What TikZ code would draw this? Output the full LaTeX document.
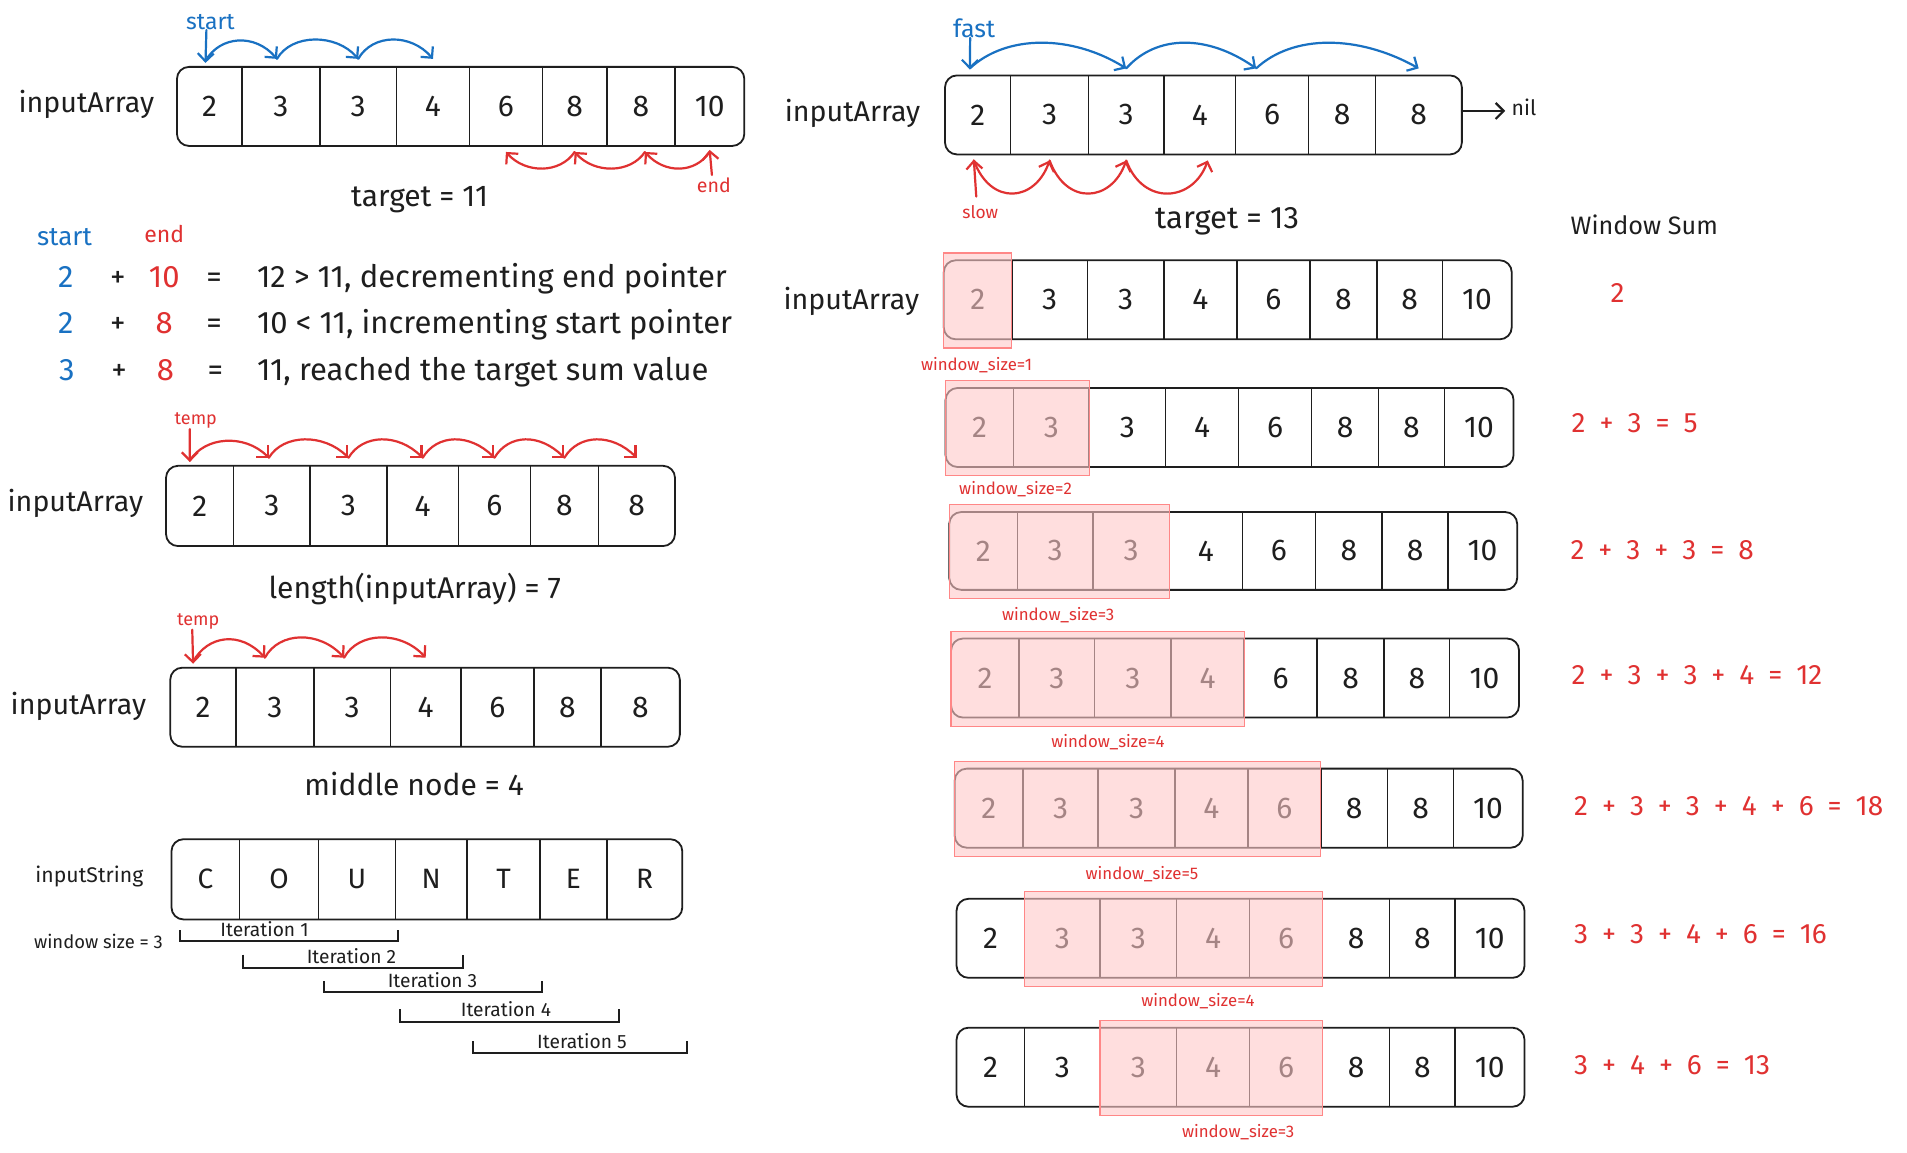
\documentclass[tikz,border=0pt]{standalone}
\usepackage{fontspec}
\setmainfont{Fira Sans}
\usetikzlibrary{arrows.meta}
\definecolor{exblue}{HTML}{1971C2}
\definecolor{exred}{HTML}{E03131}
\definecolor{exink}{HTML}{1E1E1E}
\definecolor{hlfill}{HTML}{FFC9C9}
\definecolor{hlline}{HTML}{FF8787}
\newcommand\fsz[1]{\fontsize{#1}{#1}\selectfont}
\newcommand\sumfont{\fsz{14}\spaceskip=7pt\relax}

\tikzset{
 cellnode/.style={inner sep=0pt, outer sep=0pt, font=\fsz{15}, text=exink},
 arrbox/.style={draw=exink, line width=0.9pt, rounded corners=6pt},
 divider/.style={draw=exink, line width=0.75pt},
 hlbox/.style={fill=hlfill, fill opacity=0.6, draw=hlline, line width=0.6pt},
 txt/.style={inner sep=0pt, text=exink},
 xptr/.style={line width=1.1pt, line cap=round, -{Straight Barb[length=4pt,width=8pt]}},
 xbracket/.style={draw=exink, line width=1pt},
 itlabel/.style={inner sep=0pt, text=exink, font=\fsz{9.6}, anchor=base},
 wslabel/.style={inner sep=0pt, text=exred, font=\fsz{8.4}},
 sumtxt/.style={inner sep=0pt, text=exred, font=\sumfont, anchor=west},
 rowtxt/.style={inner sep=0pt, text=exink, font=\fsz{15.5}, anchor=base},
}

% #1 name, #2 top, #3 bottom, #4 number of cells, #5 list xl/xr/value
\newcommand\mkarray[5]{%
  \foreach \xl/\xr/\v [count=\i] in {#5} {%
    \node[cellnode, minimum width={(\xr-\xl)*0.6081pt}, minimum height={(#3-#2)*0.6081pt}] (#1-\i) at ({(\xl+\xr)/2},{(#2+#3)/2}) {\v};
  }%
  \draw[arrbox] (#1-1.north west) rectangle (#1-#4.south east);
  \pgfmathtruncatemacro\lastdiv{#4-1}%
  \foreach \j in {1,...,\lastdiv} \draw[divider] (#1-\j.north east) -- (#1-\j.south east);
}
% #1 name, #2 left x, #3 top, #4 bottom
\newcommand\mkwide[4]{%
  \foreach \o/\p/\v [count=\i] in {0/56/2,56/118/3,118/181/3,181/241/4,241/301/6,301/356/8,356/410/8,410/467/10} {%
    \node[cellnode, minimum width={(\p-\o)*0.6081pt}, minimum height={(#4-#3)*0.6081pt}] (#1-\i) at ({#2+(\o+\p)/2},{(#3+#4)/2}) {\v};
  }%
  \draw[arrbox] (#1-1.north west) rectangle (#1-8.south east);
  \foreach \j in {1,...,7} \draw[divider] (#1-\j.north east) -- (#1-\j.south east);
}
\newcommand\mkhl[3]{%
  \draw[hlbox] ([yshift=3.6pt]#1-#2.north west) rectangle ([yshift=-4.3pt]#1-#3.south east);
}

\begin{document}
\begin{tikzpicture}[x=0.6081pt,y=-0.6081pt]
\fill[white] (0,0) rectangle (1568,948);
\useasboundingbox (0,0) rectangle (1568,948);

% ---------------- left panel -----------------
\node[txt, font=\fsz{14.3}] (lblA) at (71,86) {inputArray};
\mkarray{a}{55}{120}{8}{145.5/199/2, 199/263/3, 263/326/3, 326/386/4, 386/446/6, 446/499/8, 499/555/8, 555/612/10}

\node[txt, text=exblue, font=\fsz{11.5}] (startA) at (173,18) {start};
\draw[xptr, exblue] ([xshift=-2pt]startA.south) -- ([xshift=-2pt,yshift=2pt]a-1.north);
\draw[xptr, exblue] ([xshift=-2pt,yshift=3pt]a-1.north) .. controls +(12,-21) and +(-18,-21) .. ([xshift=-2pt,yshift=4pt]a-2.north);
\draw[xptr, exblue] ([xshift=-2pt,yshift=4pt]a-2.north) .. controls +(12,-21) and +(-18,-21) .. ([yshift=4pt]a-3.north);
\draw[xptr, exblue] ([yshift=4pt]a-3.north) .. controls +(12,-21) and +(-18,-21) .. ([yshift=4pt]a-4.north);

\node[txt, text=exred, font=\fsz{9.8}] (endA) at (587,152) {end};
\draw[xptr, exred] ([xshift=-1pt,yshift=1pt]endA.north) -- ([yshift=-2pt]a-8.south);
\draw[xptr, exred] ([yshift=-3pt]a-8.south) .. controls +(-12,18) and +(16,18) .. ([xshift=2pt,yshift=-3pt]a-7.south);
\draw[xptr, exred] ([xshift=2pt,yshift=-3pt]a-7.south) .. controls +(-12,18) and +(16,18) .. ([yshift=-3pt]a-6.south);
\draw[xptr, exred] ([yshift=-3pt]a-6.south) .. controls +(-12,18) and +(16,18) .. ([yshift=-3pt]a-5.south);

\node[txt, font=\fsz{15}] (tgtA) at (345,164) {target = 11};

\node[txt, text=exblue, font=\fsz{13}] (colS) at (53,195) {start};
\node[txt, text=exred, font=\fsz{11.5}] (colE) at (135,192) {end};

\node[rowtxt, text=exblue] (r1a) at (54,236) {2};
\node[rowtxt] (r1p) at (97,236) {+};
\node[rowtxt, text=exred] (r1b) at (135,236) {10};
\node[rowtxt] (r1e) at (176,236) {=};
\node[rowtxt, anchor=base west] (r1t) at (211,236) {12 > 11, decrementing end pointer};

\node[rowtxt, text=exblue] (r2a) at (54,274) {2};
\node[rowtxt] (r2p) at (97,274) {+};
\node[rowtxt, text=exred] (r2b) at (135,274) {8};
\node[rowtxt] (r2e) at (176,274) {=};
\node[rowtxt, anchor=base west] (r2t) at (211,274) {10 < 11, incrementing start pointer};

\node[rowtxt, text=exblue] (r3a) at (55,312.5) {3};
\node[rowtxt] (r3p) at (98,312.5) {+};
\node[rowtxt, text=exred] (r3b) at (136,312.5) {8};
\node[rowtxt] (r3e) at (177,312.5) {=};
\node[rowtxt, anchor=base west] (r3t) at (211,312.5) {11, reached the target sum value};

% array b
\node[txt, font=\fsz{14.3}] (lblB) at (62,414) {inputArray};
\mkarray{b}{383}{449}{7}{136.5/192/2, 192/255/3, 255/318/3, 318/377/4, 377/436/6, 436/492/8, 492/555/8}
\node[txt, text=exred, font=\fsz{9}] (tempB) at (161,346) {temp};
\draw[xptr, exred] ([xshift=-3pt]tempB.south) -- ([xshift=-5pt,yshift=2pt]b-1.north);
\draw[xptr, exred] ([xshift=-5pt,yshift=2.5pt]b-1.north) .. controls +(12,-20) and +(-20,-20) .. ([xshift=-1.5pt,yshift=4pt]b-2.north);
\draw[xptr, exred] ([xshift=-1.5pt,yshift=4pt]b-2.north) .. controls +(12,-20) and +(-20,-20) .. ([yshift=4pt]b-3.north);
\foreach \p/\q in {3/4,4/5,5/6,6/7}
  \draw[xptr, exred] ([yshift=4pt]b-\p.north) .. controls +(12,-20) and +(-20,-20) .. ([yshift=4pt]b-\q.north);
\node[txt, font=\fsz{15}] (lenB) at (341,484) {length(inputArray) = 7};

% array c
\node[txt, font=\fsz{14.3}] (lblC) at (64.5,581) {inputArray};
\mkarray{c}{549}{614}{7}{140/194/2, 194/258/3, 258/321/3, 321/379/4, 379/439/6, 439/494/8, 494/559/8}
\node[txt, text=exred, font=\fsz{9}] (tempC) at (163,511) {temp};
\draw[xptr, exred] ([xshift=-3pt]tempC.south) -- ([xshift=-5pt,yshift=2pt]c-1.north);
\draw[xptr, exred] ([xshift=-5pt,yshift=3pt]c-1.north) .. controls +(12,-22) and +(-20,-22) .. ([xshift=-5pt,yshift=5pt]c-2.north);
\draw[xptr, exred] ([xshift=-5pt,yshift=5pt]c-2.north) .. controls +(12,-22) and +(-20,-22) .. ([xshift=-4pt,yshift=5pt]c-3.north);
\draw[xptr, exred] ([xshift=-4pt,yshift=5pt]c-3.north) .. controls +(12,-22) and +(-20,-22) .. ([yshift=5pt]c-4.north);
\node[txt, font=\fsz{15}] (midC) at (340.5,645) {middle node = 4};

% array d
\node[txt, font=\fsz{10.6}] (lblD) at (73.5,721) {inputString};
\tikzset{cellnode/.append style={font=\fsz{14}}}
\mkarray{d}{690}{756}{7}{141/197/C, 197/262/O, 262/325/U, 325/384/N, 384/444/T, 444/499/E, 499/561/R}
\tikzset{cellnode/.append style={font=\fsz{15}}}
\node[txt, font=\fsz{9.2}] (wsD) at (81,774) {window size = 3};

\draw[xbracket] (148,765) -- (148,774) -- (327,774) -- (327,765);
\draw[xbracket] (200,785) -- (200,796) -- (381,796) -- (381,785);
\draw[xbracket] (266,807) -- (266,816) -- (446,816) -- (446,807);
\draw[xbracket] (329,830) -- (329,840) -- (509,840) -- (509,830);
\draw[xbracket] (389,856) -- (389,866) -- (565,866) -- (565,856);
\node[itlabel] (it1) at (217.5,770) {Iteration 1};
\node[itlabel] (it2) at (289,792) {Iteration 2};
\node[itlabel] (it3) at (355.6,812) {Iteration 3};
\node[itlabel] (it4) at (416,836) {Iteration 4};
\node[itlabel] (it5) at (478.5,862) {Iteration 5};

% ---------------- right panel -----------------
\node[txt, font=\fsz{14.3}] (lblE) at (701,93) {inputArray};
\mkarray{e}{62}{127}{7}{777/831/2, 831/895/3, 895/957/3, 957/1016/4, 1016/1076/6, 1076/1131/8, 1131/1202/8}
\node[txt, font=\fsz{10.6}] (nilE) at (1253,88) {nil};
\draw[xptr, exink] ([yshift=2pt]e-7.east) -- ([xshift=-3pt,yshift=2pt]e-7.east -| nilE.west);

\node[txt, text=exblue, font=\fsz{12.5}] (fastE) at (801,23) {fast};
\draw[xptr, exblue] ([xshift=-2pt]fastE.south) -- ([xshift=-4pt,yshift=3pt]e-1.north);
\draw[xptr, exblue] ([xshift=-4pt,yshift=3.5pt]e-1.north) .. controls +(30,-28) and +(-45,-28) .. ([yshift=3.5pt]e-3.north);
\draw[xptr, exblue] ([yshift=3.5pt]e-3.north) .. controls +(25,-28) and +(-40,-28) .. ([xshift=-8pt,yshift=3.5pt]e-5.north);
\draw[xptr, exblue] ([xshift=-8pt,yshift=3.5pt]e-5.north) .. controls +(30,-28) and +(-50,-28) .. ([yshift=3.5pt]e-7.north);

\node[txt, text=exred, font=\fsz{8.7}] (slowE) at (806,174) {slow};
\draw[xptr, exred] ([xshift=-2pt,yshift=4pt]slowE.north) -- ([xshift=-2pt,yshift=-2.5pt]e-1.south);
\draw[xptr, exred] ([xshift=-2pt,yshift=-3pt]e-1.south) .. controls +(14,38) and +(-12,34) .. ([yshift=-3pt]e-2.south);
\draw[xptr, exred] ([yshift=-3pt]e-2.south) .. controls +(14,38) and +(-12,34) .. ([yshift=-3pt]e-3.south);
\draw[xptr, exred] ([yshift=-3pt]e-3.south) .. controls +(14,38) and +(-12,34) .. ([xshift=4pt,yshift=-3pt]e-4.south);

\node[txt, font=\fsz{15.5}] (tgtE) at (1009,182) {target = 13};
\node[txt, font=\fsz{12.6}] (wsum) at (1352,185) {Window Sum};

\node[txt, font=\fsz{14.3}] (lblF) at (700,248) {inputArray};
\mkwide{f}{776}{214}{279}
\mkwide{g}{777.5}{319}{384}
\mkwide{h}{780.5}{421}{485}
\mkwide{i}{782}{525}{590}
\mkwide{j}{785}{632}{697}
\mkwide{k}{786.5}{739}{804}
\mkwide{l}{786.5}{845}{910}

\mkhl{f}{1}{1}
\mkhl{g}{1}{2}
\mkhl{h}{1}{3}
\mkhl{i}{1}{4}
\mkhl{j}{1}{5}
\mkhl{k}{2}{5}
\mkhl{l}{3}{5}

\node[wslabel] (wsf) at (803,300) {window\_size=1};
\node[wslabel] (wsg) at (835,402) {window\_size=2};
\node[wslabel] (wsh) at (870,506) {window\_size=3};
\node[wslabel] (wsi) at (911,610) {window\_size=4};
\node[wslabel] (wsj) at (939,719) {window\_size=5};
\node[wslabel] (wsk) at (985,823) {window\_size=4};
\node[wslabel] (wsl) at (1018,931) {window\_size=3};

\node[txt, text=exred, font=\fsz{14}] (sumf) at (1330,241) {2};
\node[sumtxt] (sumg) at (1292,348) {2 + 3 = 5};
\node[sumtxt] (sumh) at (1291,452) {2 + 3 + 3 = 8};
\node[sumtxt] (sumi) at (1292,555) {2 + 3 + 3 + 4 = 12};
\node[sumtxt] (sumj) at (1294,663) {2 + 3 + 3 + 4 + 6 = 18};
\node[sumtxt] (sumk) at (1294,768) {3 + 3 + 4 + 6 = 16};
\node[sumtxt] (suml) at (1294,876) {3 + 4 + 6 = 13};
\end{tikzpicture}
\end{document}
